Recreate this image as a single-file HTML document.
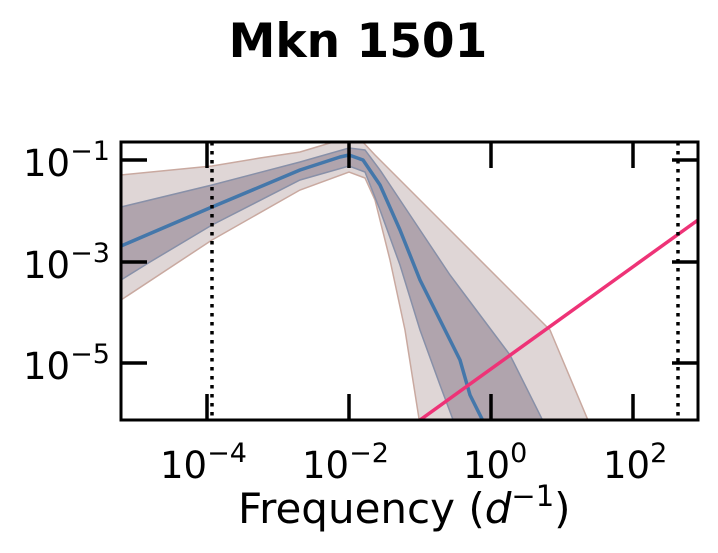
<!DOCTYPE html>
<html><head><style>body{margin:0;background:#fff}svg{display:block}</style></head><body>
<svg width="718" height="553" viewBox="0 0 718 553" xmlns="http://www.w3.org/2000/svg" font-family="DejaVu Sans, Liberation Sans, sans-serif">
<defs><clipPath id="c"><rect x="121" y="142" width="577" height="278"/></clipPath></defs>
<text x="358" y="57" text-anchor="middle" font-size="47" font-weight="bold">Mkn 1501</text>
<g clip-path="url(#c)">
<polygon fill="#8b6a6a" fill-opacity="0.28" stroke="#c9a9a0" stroke-width="1.5" points="121,175 212,166 260,158 300,152 330,143 345,138 360,139 375,155 400,180 450,230 500,280 550,330 590,425 420,425 405,330 390,260 375,200 365,178 349,172 300,190 212,240 121,300"/>
<polygon fill="#6a5a70" fill-opacity="0.4" stroke="#8890a8" stroke-width="1.5" points="121,207 212,185 300,162 349,148 365,150 380,170 400,200 420,230 450,275 480,315 510,355 545,425 455,425 440,385 420,330 400,265 380,210 365,172 349,166 300,180 212,225 150,262 121,280"/>
<polyline fill="none" stroke="#4477aa" stroke-width="3.5" stroke-linejoin="round" points="121,246 212,207 300,170 340,157 349,155 363,160 380,185 400,230 420,280 440,320 460,360 470,395 485,425"/>
<line x1="420" y1="420" x2="698" y2="220" stroke="#ee3377" stroke-width="3.5"/>
<line x1="212" y1="142" x2="212" y2="420" stroke="#000" stroke-width="3.5" stroke-dasharray="3.5,5.5"/>
<line x1="678" y1="142" x2="678" y2="420" stroke="#000" stroke-width="3.5" stroke-dasharray="3.5,5.5"/>
</g>
<g stroke="#000" stroke-width="3.5">
<line x1="207" y1="142" x2="207" y2="168"/><line x1="349" y1="142" x2="349" y2="168"/><line x1="491" y1="142" x2="491" y2="168"/><line x1="633" y1="142" x2="633" y2="168"/>
<line x1="207" y1="420" x2="207" y2="394"/><line x1="349" y1="420" x2="349" y2="394"/><line x1="491" y1="420" x2="491" y2="394"/><line x1="633" y1="420" x2="633" y2="394"/>
<line x1="121" y1="160" x2="147" y2="160"/><line x1="121" y1="262" x2="147" y2="262"/><line x1="121" y1="363" x2="147" y2="363"/>
<line x1="698" y1="160" x2="672" y2="160"/><line x1="698" y1="262" x2="672" y2="262"/><line x1="698" y1="363" x2="672" y2="363"/>
</g>
<rect x="121" y="142" width="577" height="278" fill="none" stroke="#000" stroke-width="3"/>
<g font-size="37" fill="#000">
<text x="23" y="176">10<tspan dy="-16" font-size="27">−1</tspan></text>
<text x="23" y="278">10<tspan dy="-16" font-size="27">−3</tspan></text>
<text x="23" y="379">10<tspan dy="-16" font-size="27">−5</tspan></text>
<text x="160" y="478">10<tspan dy="-16" font-size="27">−4</tspan></text>
<text x="302" y="478">10<tspan dy="-16" font-size="27">−2</tspan></text>
<text x="463" y="478">10<tspan dy="-16" font-size="27">0</tspan></text>
<text x="603" y="478">10<tspan dy="-16" font-size="27">2</tspan></text>
<text x="238" y="523" font-size="42">Frequency (<tspan font-style="italic">d</tspan><tspan dy="-17" font-size="29">−1</tspan><tspan dy="17">)</tspan></text>
</g>
</svg>
</body></html>
